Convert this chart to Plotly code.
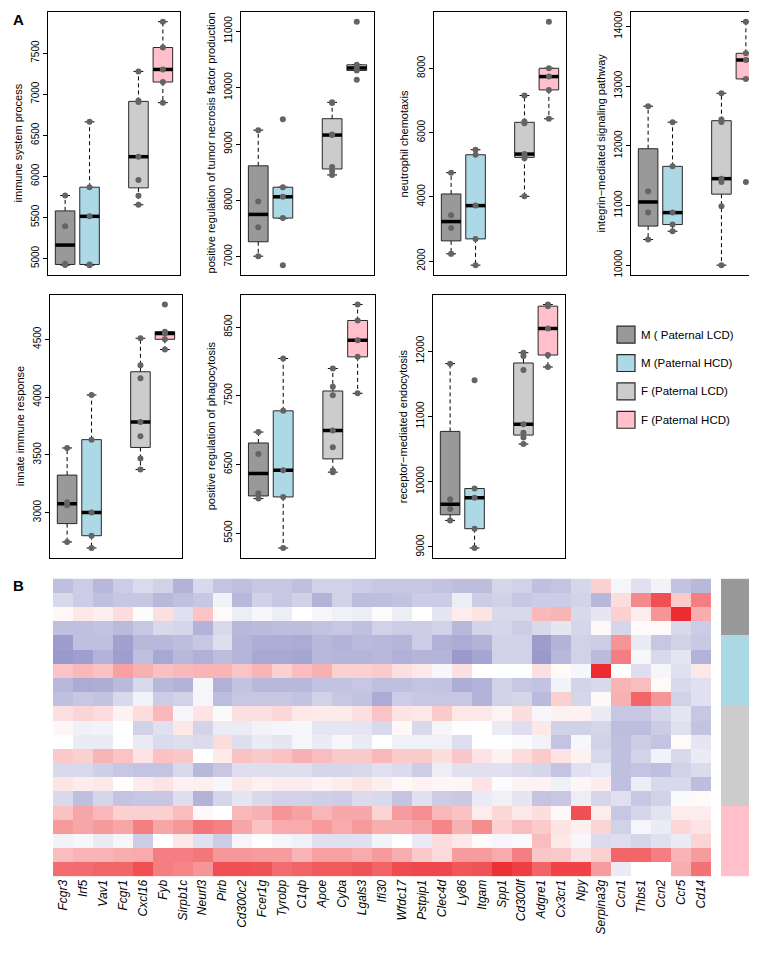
import math
import plotly.graph_objects as go

W, H = 757, 961

# ---------------- data: box plots (panel A) ----------------
groups = ["M ( Paternal LCD)", "M (Paternal HCD)", "F (Paternal LCD)", "F (Paternal HCD)"]
group_pos = [1, 2, 4, 5]
group_colors = ["rgb(153,153,153)", "rgb(173,216,230)", "rgb(204,204,204)", "rgb(255,192,203)"]

immune_system_process = [
    [4920, 4935, 5392, 5767],
    [4919, 4927, 5513, 5868, 6663],
    [5654, 5763, 5957, 6239, 6905, 6920, 7277],
    [6897, 7148, 7301, 7568, 7882],
]
tnf_production = [
    [7012, 7523, 7982, 9247],
    [6853, 7688, 8065, 8235, 9441],
    [8453, 8523, 8594, 9160, 9170, 9730, 9740],
    [10141, 10306, 10350, 10406, 11170],
]
neutrophil_chemotaxis = [
    [2228, 3035, 3428, 4752],
    [1876, 2693, 3728, 5310, 5466],
    [4017, 5200, 5256, 5331, 6293, 6345, 7152],
    [6428, 7328, 7741, 8000, 9448],
]
integrin_pathway = [
    [10429, 10880, 11237, 12663],
    [10568, 10680, 10880, 11655, 12396],
    [10000, 10986, 11393, 11449, 12400, 12440, 12880],
    [11393, 13120, 13437, 13549, 14078],
]
innate_immune_response = [
    [2745, 3063, 3089, 3559],
    [2693, 2799, 3000, 3631, 4018],
    [3373, 3467, 3660, 3783, 4162, 4276, 4509],
    [4411, 4500, 4550, 4566, 4801],
]
phagocytosis = [
    [6002, 6079, 6653, 6971],
    [5283, 6026, 6416, 7280, 8042],
    [6387, 6411, 6749, 6995, 7506, 7632, 7897],
    [7535, 8066, 8307, 8596, 8828],
]
endocytosis = [
    [9407, 9580, 9732, 11807],
    [8985, 9280, 9753, 9895, 11553],
    [10576, 10678, 10749, 10881, 11710, 11924, 11975],
    [11756, 11939, 12346, 12687, 12712],
]

panel_titles = [
    "immune system process",
    "positive regulation of tumor necrosis factor production",
    "neutrophil chemotaxis",
    "integrin\u2212mediated signaling pathway",
    "innate immune response",
    "positive regulation of phagocytosis",
    "receptor\u2212mediated endocytosis",
]
panel_data = [immune_system_process, tnf_production, neutrophil_chemotaxis, integrin_pathway,
              innate_immune_response, phagocytosis, endocytosis]
panel_ticks = [
    [5000, 5500, 6000, 6500, 7000, 7500],
    [7000, 8000, 9000, 10000, 11000],
    [2000, 4000, 6000, 8000],
    [10000, 11000, 12000, 13000, 14000],
    [3000, 3500, 4000, 4500],
    [5500, 6500, 7500, 8500],
    [9000, 10000, 11000, 12000],
]

# ---------------- data: heatmap (panel B) ----------------
genes = ["Fcgr3", "Irf5", "Vav1", "Fcgr1", "Cxcl16", "Fyb", "Sirpb1c", "Neurl3", "Pirb", "Cd300c2",
         "Fcer1g", "Tyrobp", "C1qb", "Apoe", "Cyba", "Lgals3", "Ifi30", "Wfdc17", "Pstpip1", "Clec4d",
         "Ly86", "Itgam", "Spp1", "Cd300lf", "Adgre1", "Cx3cr1", "Npy", "Serpina3g", "Ccn1", "Thbs1",
         "Ccn2", "Ccr5", "Cd14"]
sample_groups = [0, 0, 0, 0, 1, 1, 1, 1, 1, 2, 2, 2, 2, 2, 2, 2, 3, 3, 3, 3, 3]
heat_rows = [
    [-2.5,-2,-2.8,-2,-1.4,-1.8,-3,-1.5,-2.3,-2.5,-2.2,-2.2,-2.5,-1.8,-1.8,-2,-2.2, -2.2,-2.2,-2.4,-2.6,-2.6,-1.6,-1.8,-2.5,-2.3,-1.6,2,-0.4,-1.2,-0.5,-2.4,-2.8],
    [-1.5,-2,-2.5,-2.2,-2.2,-2.8,-2.5,-2.2,-0.5,-2.8,-1.8,-2.2,-1.8,-3,-1.8,-2.6,-2.6, -2.4,-2,-2,-0.7,-2,-1.8,-2.2,-2,-2,-1.7,-2.8,1.5,5,7.5,2.2,5.5],
    [0.3,1,0.7,1.5,-0.1,1.3,-1.2,2.5,0.2,-0.7,-0.3,-0.7,0,-0.3,-0.6,-0.7,-0.1, -0.7,0,-1,0.8,1.2,-1.5,-1.5,3,3.2,-1.5,-1,2,0.8,4.5,9,3.5],
    [-2.5,-2.5,-2.4,-2.7,-2.2,-1.5,-1.6,-3,-1.5,-2.8,-2.7,-2.6,-2.6,-2.4,-2.2,-2.5,-1.8, -2,-2,-1.8,-2.8,-1.7,-1.6,-2,-1.5,-1,-1.6,0.3,-1.6,0.2,0.2,-1.5,-2],
    [-3.9,-2.5,-2.5,-3.7,-2.8,-2.8,-2.6,-2.2,-1.3,-2.9,-3.2,-3.2,-3.3,-2.8,-3,-2.7,-2.8, -2.9,-2,-3.1,-3.3,-3,-1.8,-1.8,-3.9,-3,-1.8,-2,4.5,-0.8,-2.2,-1.8,-2.1],
    [-4,-3.8,-3,-3.8,-2.5,-3.4,-2.8,-3.1,-2.6,-2.9,-3.4,-3.4,-3.5,-2.8,-2.9,-2.9,-2.8, -3.1,-2.9,-2.9,-4,-3.5,-1.8,-1.8,-4,-2.8,-1.8,-2.7,5.5,-0.3,-1.5,-1,-3],
    [2.5,3,2.6,4,3.3,2.7,3,3.2,3.2,2.5,3.2,2,2.8,3.3,2,2,2.2, 1.3,1,-0.3,1.3,0,0,0,1.3,0.2,-0.3,9,0,-1.3,-0.4,-1.2,1],
    [-2.8,-3.3,-3.2,-2.7,-1.5,-2.8,-3,-0.4,-3.1,-2.4,-2.8,-2.8,-2.8,-2.4,-2.4,-2.2,-2.5, -2.5,-2.3,-2.4,-3.2,-3,-1.8,-2.2,-2.4,-0.5,-1.7,-1.5,3.2,2.8,0.2,-1.5,-1.2],
    [-2.5,-2.2,-2.4,-1.5,-0.5,-2,-1.8,-0.4,-2.6,-2.2,-2.2,-2.2,-2.4,-1.8,-2.2,-2.4,-3.3, -2,-2.2,-2.2,-2.2,-3,-1.8,-1.6,-2.7,2,-1.6,0.3,3.3,6.5,4.5,-1.8,-1.2],
    [1.3,1.8,1.5,0.6,1.5,3,-0.4,1.2,-0.2,1.3,1.3,1.7,1,0.9,0.9,1.3,2.5, 1.1,1,2.2,1,1,0.5,1.4,-0.3,0.6,0.6,-0.8,-2.2,-2.2,-1.6,-1,-2.2],
    [0.4,-0.6,-0.5,0,-1.8,-1.2,1,-1.7,-0.8,-0.8,-0.5,-0.4,-0.3,-1,-1,-1,-1.5, 0.3,-1.5,-0.4,0.1,0,-0.8,-1.3,1,-1.8,-1.8,-1.6,-2.6,-2.6,-2,-1.2,-2.4],
    [0,-0.8,-0.8,0.1,-0.8,-1.4,-1.3,-1.4,1.5,-1.3,-0.8,-1,-0.4,-0.8,-0.3,-0.8,0, -0.6,-0.6,-0.6,-1.3,0,0,-0.2,-0.5,-2.3,-0.3,-1.8,-2.5,-2,-2.3,0.2,-1],
    [2.3,2,3.2,2.5,1.2,2.6,2.4,0,0.9,2.6,2.3,2.6,3.3,2.8,2.3,2.3,3, 2.2,2.2,1.4,2.4,1.2,0.6,1.5,2.2,1.2,0.6,-1.5,-2.5,-1.7,-0.5,-1.5,-0.8],
    [-1.5,-1.5,-1.9,-2.2,-2.3,-2.3,-1.5,-2.8,-2.2,-1.3,-1.3,-1.3,-1.3,-1.6,-1.6,-1.5,-1.2, -1.4,-2,-0.7,-1.2,-1.2,-1.2,-1.4,-1.6,-2.3,-1.2,-0.9,-2.5,-2.3,-2.5,-1.8,-1.4],
    [1.1,0.8,1,0.1,0.8,1.2,0.6,0.7,-0.3,1,0.6,0.8,0.8,0.5,0.8,1.1,0.7, 0.3,0.6,0.4,0.4,1.2,-0.1,0.5,0.5,-0.6,0.4,0.8,-2.5,-0.7,-1.5,-1.5,-2.6],
    [-1.5,-2.5,-1.6,-2.3,-2.2,-2.2,-1.3,-3,-1.6,-1,-1.5,-1.8,-1.8,-1.9,-2,-1.4,-1.5, -2.3,-1.2,-2,-2.1,-0.8,-0.6,-1,-2.3,-2.2,-0.7,-1.6,-1.2,-2.2,-1.8,-0.2,0.2],
    [2.6,3.8,3,2,2,2,2.8,0.3,0,3,3.3,4.5,4,3.1,3.7,3.7,1.8, 4.2,4.8,3,2.6,0.8,1.7,1,1.4,0.3,7.5,0.8,-2.2,-1.6,-1.1,0.8,0.8],
    [4.3,3.8,4.3,3.8,5.5,3.8,4.4,5.8,5.4,3.8,2.6,3.6,3.6,4.3,3.6,4.3,3.5, 3.5,3.9,5.2,3.3,4.9,2,2.8,2.2,1.1,0.7,1.8,-1.8,-0.4,-0.8,1.7,1.2],
    [-0.5,-0.3,-0.8,-0.4,-2,0,1,-1.2,-2,-0.4,0,-0.4,-0.6,-1.2,-1.2,-1.2,-0.5, 0,-0.8,1.5,1,0.2,-0.4,-0.2,2.8,1,-0.3,-1.4,-1.3,-1.6,-1.2,-0.8,1.8],
    [2.8,3.2,3.2,3.5,3.6,5.5,5.5,5.8,4.4,4.4,4.2,4.2,3.2,4,4,3.6,4.3, 3.5,2.3,1.6,4.2,4.2,3.6,5.5,2.4,2.3,1.3,2,6.5,6.5,5.5,3.2,4.2],
    [6.2,6.3,6.5,6.5,7.5,5.5,5.2,4.5,7.5,7.5,7.3,6.2,6.6,7,7,7.3,6.6, 7.6,7.8,7.8,7.2,7.4,8.8,8.2,6.6,8,8,4.2,-0.8,0.1,0,3.5,6],
]

# ---------------- helpers ----------------
def fx(px):
    return px / W

def fy(py):
    return 1 - py / H

def fivenum(vals):
    x = sorted(vals)
    n = len(x)
    n4 = math.floor((n + 3) / 2) / 2
    d = [1, n4, (n + 1) / 2, n + 1 - n4, n]
    return [0.5 * (x[math.floor(k) - 1] + x[math.ceil(k) - 1]) for k in d]

FONT = "Liberation Sans, Arial, sans-serif"
fig = go.Figure()
layout_axes = {}
annotations = []

# panel frames in pixels: (left, right, top, bottom)
frames = [
    (40, 172, 3, 267), (233, 366, 3, 267), (426, 558, 3, 267), (623, 755, 3, 267),
    (42, 174, 287, 551), (233, 367, 287, 551), (425, 557, 287, 551),
]

hw = 0.4
for i, (data, title, ticks, fr) in enumerate(zip(panel_data, panel_titles, panel_ticks, frames)):
    k = i + 1
    xa = "x" if k == 1 else f"x{k}"
    ya = "y" if k == 1 else f"y{k}"
    allv = [v for g in data for v in g]
    lo, hi = min(allv), max(allv)
    pad = 0.04 * (hi - lo)
    for g, (vals, pos, col) in enumerate(zip(data, group_pos, group_colors)):
        mn, q1, med, q3, mx = fivenum(vals)
        iqr = q3 - q1
        uw = max(v for v in vals if v <= q3 + 1.5 * iqr)
        lw = min(v for v in vals if v >= q1 - 1.5 * iqr)
        common = dict(xaxis=xa, yaxis=ya, showlegend=False, hoverinfo="skip")
        # whiskers
        fig.add_trace(go.Scatter(x=[pos, pos, None, pos, pos], y=[q3, uw, None, q1, lw], mode="lines",
                                 line=dict(color="black", width=1, dash="4px,3px"), **common))
        # staples
        fig.add_trace(go.Scatter(x=[pos - hw / 2, pos + hw / 2, None, pos - hw / 2, pos + hw / 2],
                                 y=[uw, uw, None, lw, lw], mode="lines",
                                 line=dict(color="black", width=1), **common))
        # box
        fig.add_trace(go.Scatter(x=[pos - hw, pos + hw, pos + hw, pos - hw, pos - hw],
                                 y=[q1, q1, q3, q3, q1], mode="lines", fill="toself", fillcolor=col,
                                 line=dict(color="rgb(40,40,40)", width=1), **common))
        # median
        fig.add_trace(go.Scatter(x=[pos - hw, pos + hw], y=[med, med], mode="lines",
                                 line=dict(color="black", width=3.5), **common))
        # points
        fig.add_trace(go.Scatter(x=[pos] * len(vals), y=vals, mode="markers",
                                 marker=dict(color="rgb(100,100,100)", size=6), **common))
    l, r, t, b = fr
    layout_axes["xaxis" if k == 1 else f"xaxis{k}"] = dict(
        domain=[fx(l), fx(r)], anchor=ya, range=[0.3, 5.7], showticklabels=False, ticks="",
        showgrid=False, zeroline=False, showline=True, mirror=True, linecolor="black", linewidth=1)
    layout_axes["yaxis" if k == 1 else f"yaxis{k}"] = dict(
        domain=[fy(b), fy(t)], anchor=xa, range=[lo - pad, hi + pad], tickvals=ticks,
        ticktext=[str(v) for v in ticks], tickangle=-90, ticks="outside", ticklen=4,
        tickcolor="black", tickfont=dict(family=FONT, size=10, color="black"),
        showgrid=False, zeroline=False, showline=True, mirror=True, linecolor="black", linewidth=1)
    annotations.append(dict(x=fx(l - 30), y=fy((t + b) / 2), xref="paper", yref="paper",
                            text=title, textangle=-90, showarrow=False, xanchor="center",
                            yanchor="middle", font=dict(family=FONT, size=11, color="black")))

# ---------------- heatmap ----------------
hm_l, hm_r, hm_t, hm_b = 45, 703, 572, 871
colorscale = [[0.0, "rgb(0,0,128)"], [0.5, "rgb(255,255,255)"], [1.0, "rgb(235,20,25)"]]
fig.add_trace(go.Heatmap(z=heat_rows, x=genes, y=list(range(len(heat_rows))), colorscale=colorscale,
                         zmin=-10, zmax=10, showscale=False, xaxis="x8", yaxis="y8", hoverinfo="skip"))
layout_axes["xaxis8"] = dict(domain=[fx(hm_l), fx(hm_r)], anchor="y8", tickangle=-90, ticks="",
                             showgrid=False, zeroline=False, showline=False,
                             tickfont=dict(family=FONT, size=12, color="black", style="italic"))
layout_axes["yaxis8"] = dict(domain=[fy(hm_b), fy(hm_t)], anchor="x8", autorange="reversed",
                             showticklabels=False, ticks="", showgrid=False, zeroline=False)

side_cs = [[0.0, group_colors[0]], [0.25, group_colors[0]], [0.25, group_colors[1]], [0.5, group_colors[1]],
           [0.5, group_colors[2]], [0.75, group_colors[2]], [0.75, group_colors[3]], [1.0, group_colors[3]]]
fig.add_trace(go.Heatmap(z=[[g] for g in sample_groups], x=[0], y=list(range(len(sample_groups))),
                         colorscale=side_cs, zmin=-0.5, zmax=3.5, showscale=False,
                         xaxis="x9", yaxis="y9", hoverinfo="skip"))
layout_axes["xaxis9"] = dict(domain=[fx(713), fx(743)], anchor="y9", showticklabels=False, ticks="",
                             showgrid=False, zeroline=False)
layout_axes["yaxis9"] = dict(domain=[fy(hm_b), fy(hm_t)], anchor="x9", autorange="reversed",
                             showticklabels=False, ticks="", showgrid=False, zeroline=False)

# ---------------- legend (manual) ----------------
shapes = []
for i, (name, col) in enumerate(zip(groups, group_colors)):
    cy = 327 + i * 28.5
    shapes.append(dict(type="rect", xref="paper", yref="paper", x0=fx(609), x1=fx(627),
                       y0=fy(cy + 8.5), y1=fy(cy - 8.5), fillcolor=col,
                       line=dict(color="rgb(40,40,40)", width=1.2)))
    annotations.append(dict(x=fx(631), y=fy(cy), xref="paper", yref="paper", text=name,
                            showarrow=False, xanchor="left", yanchor="middle",
                            font=dict(family=FONT, size=11.5, color="black")))

annotations.append(dict(x=fx(3), y=fy(11), xref="paper", yref="paper", text="<b>A</b>", showarrow=False,
                        xanchor="left", yanchor="middle", font=dict(family=FONT, size=15, color="black")))
annotations.append(dict(x=fx(3), y=fy(579), xref="paper", yref="paper", text="<b>B</b>", showarrow=False,
                        xanchor="left", yanchor="middle", font=dict(family=FONT, size=15, color="black")))

fig.update_layout(width=W, height=H, autosize=False, margin=dict(l=0, r=0, t=0, b=0),
                  paper_bgcolor="white", plot_bgcolor="white", showlegend=False,
                  annotations=annotations, shapes=shapes, font=dict(family=FONT), **layout_axes)

fig.write_html("out.html")
